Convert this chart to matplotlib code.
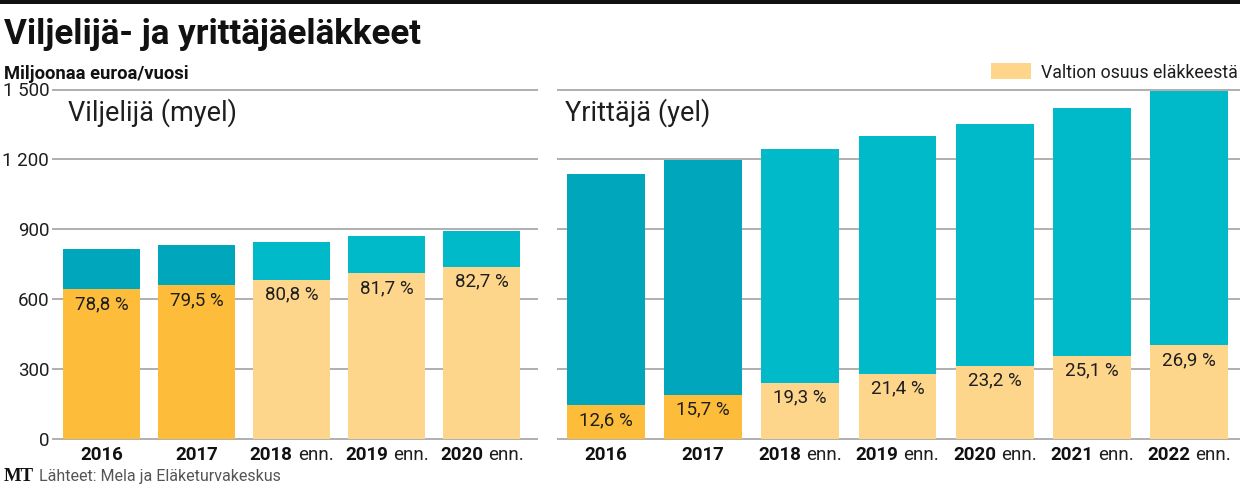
import matplotlib
matplotlib.use('Agg')
import matplotlib.pyplot as plt
from matplotlib.patches import Rectangle

W, H = 1240, 487

myel_years = ['2016', '2017', '2018', '2019', '2020']
myel_forecast = [False, False, True, True, True]
myel_total = [813, 830, 845, 870, 893]
myel_pct = [78.8, 79.5, 80.8, 81.7, 82.7]

yel_years = ['2016', '2017', '2018', '2019', '2020', '2021', '2022']
yel_forecast = [False, False, True, True, True, True, True]
yel_total = [1135, 1198, 1243, 1300, 1352, 1419, 1493]
yel_pct = [12.6, 15.7, 19.3, 21.4, 23.2, 25.1, 26.9]

yticks = [0, 300, 600, 900, 1200, 1500]
ytick_labels = ['0', '300', '600', '900', '1 200', '1 500']

TEAL_DARK = '#00A7BC'
TEAL_LIGHT = '#00B9C9'
ORANGE_DARK = '#FDBD3B'
ORANGE_LIGHT = '#FDD68C'
FONT = 'Roboto'
TXT = '#1e1e1e'

plt.rcParams['font.family'] = [FONT, 'DejaVu Sans']

fig = plt.figure(figsize=(W / 100, H / 100), dpi=100)


def fx(px):
    return px / W


def fy(py):
    return 1 - py / H


PPU = 349.0 / 1500  # pixels per unit
Y0 = 438.5
YLO, YHI = -5, 1505
ax_bottom_px = Y0 + (0 - YLO) * PPU
ax_top_px = Y0 - YHI * PPU


def make_ax(x0, x1):
    return fig.add_axes([fx(x0), fy(ax_bottom_px), fx(x1) - fx(x0),
                         (ax_bottom_px - ax_top_px) / H])


ax1 = make_ax(52, 538)
ax2 = make_ax(557, 1240)

xlabels = []


def panel(ax, years, forecast, total, pct, xlim, width):
    ax.set_xlim(*xlim)
    ax.set_ylim(YLO, YHI)
    ax.set_yticks(yticks)
    ax.grid(axis='y', color='#9a9a9a', lw=1.1)
    ax.set_axisbelow(True)
    for s in ax.spines.values():
        s.set_visible(False)
    ax.set_xticks([])
    x = list(range(len(years)))
    state = [t * p / 100 for t, p in zip(total, pct)]
    rest = [t - s for t, s in zip(total, state)]
    oc = [ORANGE_LIGHT if f else ORANGE_DARK for f in forecast]
    tc = [TEAL_LIGHT if f else TEAL_DARK for f in forecast]
    ax.bar(x, state, width=width, color=oc, lw=0)
    ax.bar(x, rest, bottom=state, width=width, color=tc, lw=0)
    for i, (s, p) in enumerate(zip(state, pct)):
        ax.annotate(f"{p:.1f} %".replace('.', ','), xy=(i, s), xytext=(0, -6),
                    textcoords='offset pixels', ha='center', va='top',
                    fontsize=13.5, color=TXT, fontweight='normal')
    for i, (yr, f) in enumerate(zip(years, forecast)):
        t1 = ax.annotate(yr, xy=(i, 0), xycoords=('data', 'axes fraction'),
                         xytext=(0, -15), textcoords='offset pixels',
                         ha='left', va='center', fontsize=13.5,
                         fontweight='bold', color='#111111')
        t2 = None
        if f:
            t2 = ax.annotate('enn.', xy=(i, 0), xycoords=('data', 'axes fraction'),
                             xytext=(0, -15), textcoords='offset pixels',
                             ha='left', va='center', fontsize=13.5,
                             fontweight='normal', color=TXT)
        xlabels.append((t1, t2))


panel(ax1, myel_years, myel_forecast, myel_total, myel_pct, (-0.52, 4.59), 0.81)
panel(ax2, yel_years, yel_forecast, yel_total, yel_pct, (-0.5, 6.52), 0.80)

ax1.set_yticklabels(ytick_labels)
ax1.tick_params(axis='y', length=0, pad=2, labelsize=13.5, labelcolor=TXT)
ax2.set_yticklabels([])
ax2.tick_params(axis='y', length=0)

# top black bar
fig.patches.append(Rectangle((0, fy(4)), 1, 4 / H, transform=fig.transFigure,
                             color='#111111', lw=0))

fig.text(fx(4), fy(44), 'Viljelijä- ja yrittäjäeläkkeet', fontsize=25.2,
         fontweight='bold', color='#111111', va='baseline', ha='left')
fig.text(fx(4), fy(79), 'Miljoonaa euroa/vuosi', fontsize=13.2,
         fontweight='bold', color='#111111', va='baseline', ha='left')
fig.text(fx(68), fy(121), 'Viljelijä (myel)', fontsize=19.5,
         fontweight='normal', color=TXT, va='baseline', ha='left')
fig.text(fx(565), fy(121), 'Yrittäjä (yel)', fontsize=19.5,
         fontweight='normal', color=TXT, va='baseline', ha='left')

# legend
fig.patches.append(Rectangle((fx(991), fy(79)), fx(1031) - fx(991), 16 / H,
                             transform=fig.transFigure, color=ORANGE_LIGHT, lw=0))
fig.text(fx(1238), fy(78), 'Valtion osuus eläkkeestä', fontsize=12.8,
         fontweight='normal', color=TXT, va='baseline', ha='right')

# footer
fig.text(fx(4), fy(481), 'MT', fontsize=13.5, fontweight='bold',
         family=['Liberation Serif', 'DejaVu Serif'], color='#111111',
         va='baseline', ha='left')
fig.text(fx(39), fy(481), 'Lähteet: Mela ja Eläketurvakeskus', fontsize=11.5,
         fontweight='normal', color='#555555', va='baseline', ha='left')

# center mixed-weight x labels
fig.canvas.draw()
r = fig.canvas.get_renderer()
GAP = 5
for t1, t2 in xlabels:
    w1 = t1.get_window_extent(r).width
    w2 = t2.get_window_extent(r).width if t2 is not None else 0
    total_w = w1 + (GAP + w2 if t2 is not None else 0)
    t1.xyann = (-total_w / 2, -15)
    if t2 is not None:
        t2.xyann = (-total_w / 2 + w1 + GAP, -15)

fig.savefig('out.png', dpi=100)
